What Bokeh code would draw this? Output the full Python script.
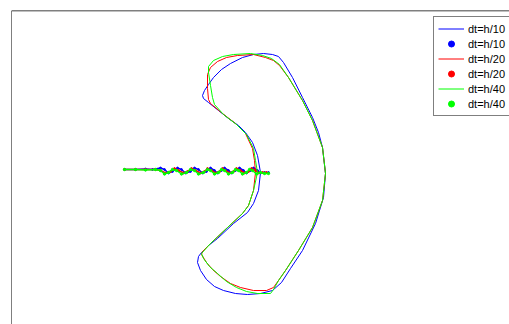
from bokeh.plotting import figure
from bokeh.models import Range1d, Legend, LegendItem, Span
from bokeh.embed import file_html
from bokeh.resources import INLINE

# Contour of the fracture zone for each time step (data units)
blue_x = [0, -3, -8, -15, -22, -32, -42, -52, -57, -58, -56, -52, -47, -39, -30, -18, -7, 3, 12, 18, 23,
          32, 42, 52, 58, 62, 65, 63, 55, 42, 30, 21, 12, 0, -13, -25, -37, -46, -54, -60, -63, -62, -59,
          -52, -43, -27, -13, -7, -2, 0]
blue_y = [-2, 15, 28, 38, 45, 52, 60, 68, 72, 75, 80, 86, 93, 101, 107, 113, 116, 117, 116, 114, 108,
          93, 73, 53, 38, 23, -3, -27, -53, -80, -98, -112, -120, -123, -124, -123, -120, -116, -109, -100,
          -92, -86, -82, -75, -68, -53, -42, -33, -20, -2]

red_x = [-5, -6, -8, -15, -25, -38, -50, -52, -53, -53, -50, -43, -34, -23, -7, 5, 13, 19, 28, 42, 52,
         62, 65, 62, 52, 38, 25, 18, 13, 6, -7, -20, -30, -40, -48, -54, -59, -58, -50, -33, -18, -12, -7, -5]
red_y = [-2, 10, 22, 37, 47, 57, 67, 71, 82, 96, 103, 109, 113, 115, 116, 113, 110, 105, 93, 70, 50,
         23, -3, -30, -57, -80, -100, -110, -117, -120, -120, -117, -113, -106, -99, -92, -84, -81, -73,
         -57, -43, -35, -20, -2]

green_x = [-3, -5, -7, -14, -24, -37, -46, -48, -50, -52, -52, -47, -38, -27, -10, 2, 11, 19, 28, 42, 52,
           62, 65, 62, 52, 38, 25, 18, 13, 10, -3, -14, -24, -34, -43, -51, -57, -59, -50, -33, -18, -12,
           -7, -3]
green_y = [-2, 10, 22, 36, 46, 56, 66, 73, 85, 98, 104, 110, 114, 116, 117, 115, 112, 106, 93, 70, 50,
           23, -3, -30, -57, -80, -100, -110, -119, -123, -123, -121, -117, -111, -103, -96, -88, -83, -73,
           -57, -43, -35, -20, -2]

# Crack path (dots) for each time step
blue_cx = [-136, -125, -115, -108, -100, -96, -92, -88, -83, -79, -75, -70, -66, -62, -58, -54, -50, -46,
           -43, -39, -36, -32, -29, -25, -21, -17, -14, -10, -7, -3, 0, 4, 8]
blue_cy = [1, 1, 1.5, 1, 2.5, 1, -2.5, -1, 2.5, 1, -2.5, -1, 2.5, 1, -2.5, -1, 2.5, 0, -2.5, 0, 2.5, 0,
           -2.5, 0, 2.5, 0, -2.5, 0, 2.5, 0, -2.5, -2, -2]

red_cx = [-136, -125, -115, -105, -100, -95, -90, -86, -82, -77, -73, -69, -65, -60, -56, -53, -49, -45,
          -41, -38, -35, -31, -27, -24, -20, -16, -12, -9, -5, -2, 2, 6]
red_cy = [1, 1, 1, 1, 0, -2.5, -1, 2, 0, -2.5, -1, 2, 0, -2.5, -1, 2, 0, -2.5, -1, 2, 0, -2.5, -1, 2, 0,
          -2.5, -1, 2, 0, -2.5, -2, -2]

green_cx = [-136, -125, -115, -105, -100, -96, -92, -88, -84, -79, -74, -70, -66, -62, -57, -53, -50, -46,
            -42, -39, -36, -32, -28, -25, -22, -18, -14, -11, -8, -4, 0, 4, 8]
green_cy = [1, 1, 0.5, 1, 0, -3.5, -2, 1, 0, -3.5, -2, 1, 0, -3.5, -2, 1, 0, -3.5, -2, 1, 0, -3.5, -2, 1,
            0, -3.5, -2, 1, 0, -3.5, -2, -3, -3]

labels = ["dt=h/10", "dt=h/20", "dt=h/40"]
colors = ["#0000ff", "#ff0000", "#00ff00"]

p = figure(width=509, height=324, x_range=Range1d(-249, 249), y_range=Range1d(-154, 160),
           x_axis_location=None, y_axis_location=None, toolbar_location=None,
           output_backend="svg", min_border_left=11, min_border_top=10,
           min_border_right=0, min_border_bottom=0, outline_line_color=None)
p.grid.visible = False

series = [(blue_x, blue_y, blue_cx, blue_cy), (red_x, red_y, red_cx, red_cy),
          (green_x, green_y, green_cx, green_cy)]
dot_sizes = [1.8, 1.8, 2.4]
items = []
for (cx, cy, kx, ky), lab, col, ds in zip(series, labels, colors, dot_sizes):
    r_line = p.line(cx, cy, line_color=col, line_width=1)
    p.line(kx, ky, line_color=col, line_width=1.5)
    r_dot = p.scatter(kx, ky, size=ds, fill_color=col, line_color=col)
    items.append(LegendItem(label=lab, renderers=[r_line]))
    items.append(LegendItem(label=lab, renderers=[r_dot]))

p.add_layout(Span(location=-249, dimension="height", line_color="#000000", line_width=1))
p.add_layout(Span(location=160, dimension="width", line_color="#000000", line_width=1.5))

legend = Legend(items=items, location=(422, 208), padding=4, spacing=0, margin=0,
                label_standoff=4, glyph_width=26, glyph_height=15, label_height=15,
                label_text_font="Liberation Sans", label_text_font_size="11px",
                label_text_color="#000000", border_line_color="#000000", border_line_width=1,
                background_fill_color="#ffffff", background_fill_alpha=1)
p.add_layout(legend)

open("out.html", "w").write(file_html(p, INLINE))
